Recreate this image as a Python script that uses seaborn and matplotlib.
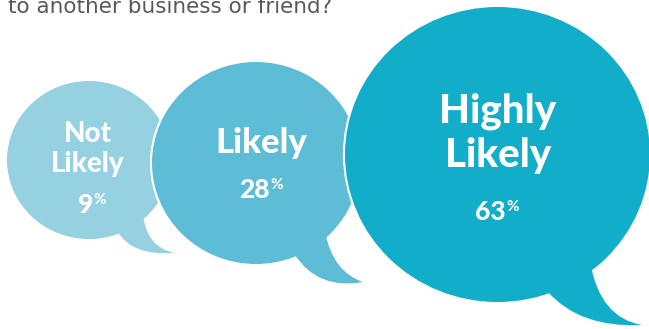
import matplotlib
matplotlib.use("Agg")
import matplotlib.pyplot as plt
import seaborn as sns
from matplotlib.patches import Ellipse, PathPatch
from matplotlib.path import Path

# ---- data ----
title_text = "to another business or friend?"
categories = [["Not", "Likely"], ["Likely"], ["Highly", "Likely"]]
values = [9, 28, 63]
colors = ["#96d1e1", "#5ebdd6", "#12adc9"]

# ---- style / layout (pixels) ----
sns.set_theme(style="white")
plt.rcParams['font.family'] = ['Lato', 'DejaVu Sans']

W, H = 649, 329
fig = plt.figure(figsize=(W / 100, H / 100), dpi=100)
ax = fig.add_axes([0, 0, 1, 1])
ax.set_xlim(0, W)
ax.set_ylim(H, 0)
ax.axis('off')

bodies = [  # (cx, cy, width, height)
    (89, 160, 164, 158),
    (256, 163, 208, 202),
    (497.5, 154.5, 305, 295),
]
tails = [  # P1, C_left, tip, C_right, P2
    [(118, 232), (132, 256), (175, 253), (147, 248), (143, 215)],
    [(295, 255), (318, 290), (363, 282), (333, 272), (325, 232)],
    [(548, 292), (580, 328), (642, 325), (600, 318), (590, 262)],
]
label_baselines = [[142, 172], [153], [123, 167]]
label_x = [88, 261, 498]
label_sizes = [20, 25, 29]
pct_baseline = [213, 198, 220]
pct_x = [92, 261, 497]

def tail_path(t):
    verts = [t[0], t[1], t[2], t[3], t[4], t[0]]
    codes = [Path.MOVETO, Path.CURVE3, Path.CURVE3, Path.CURVE3, Path.CURVE3, Path.CLOSEPOLY]
    return Path(verts, codes)

for i, (body, tail, col) in enumerate(zip(bodies, tails, colors)):
    z = 10 * (i + 1)
    cx, cy, w, h = body
    ax.add_patch(Ellipse((cx, cy), w, h, fc='white', ec='white', lw=3, zorder=z))
    ax.add_patch(PathPatch(tail_path(tail), fc='white', ec='white', lw=3, zorder=z))
    ax.add_patch(Ellipse((cx, cy), w, h, fc=col, ec='none', lw=0, zorder=z + 1))
    ax.add_patch(PathPatch(tail_path(tail), fc=col, ec='none', lw=0, zorder=z + 1))

for i in range(3):
    for line, yb in zip(categories[i], label_baselines[i]):
        ax.text(label_x[i], yb, line, ha='center', va='baseline', color='white',
                fontsize=label_sizes[i], fontweight=900, zorder=100)

fig.canvas.draw()
renderer = fig.canvas.get_renderer()
for i in range(3):
    num = ax.text(0, pct_baseline[i], f"{values[i]}", ha='left', va='baseline',
                  color='white', fontsize=19, fontweight=900, zorder=100)
    pc = ax.text(0, pct_baseline[i] - 20, "%", ha='left', va='top',
                 color='white', fontsize=11, fontweight='bold', zorder=100)
    bn = num.get_window_extent(renderer)
    bp = pc.get_window_extent(renderer)
    gap = 0
    total = bn.width + gap + bp.width
    x0 = pct_x[i] - total / 2
    num.set_x(x0)
    pc.set_x(x0 + bn.width + gap)

ax.text(8, 13, title_text, ha='left', va='baseline', color='#58595b', fontsize=15.5,
        family=['DejaVu Sans'], zorder=100)

fig.savefig("out.png", dpi=100)
